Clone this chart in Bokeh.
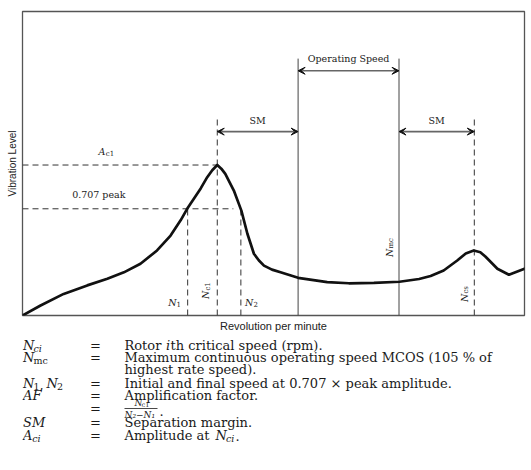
import math
from bokeh.plotting import figure
from bokeh.models import Arrow, VeeHead, FixedTicker, Range1d
from bokeh.layouts import column
from bokeh.embed import file_html
from bokeh.resources import INLINE
from bokeh.core.properties import value

# ---------------- data (rpm and vibration in % of plotted range) ----------------
rpm = [0, 3.6, 8.2, 12.9, 16.9, 20.2, 23.5, 26.8, 29.5, 31.5, 32.8, 35.5, 36.8, 37.8,
       38.8, 39.6, 40.4, 42.1, 43.6, 44.8, 46.1, 47.1, 48.1, 49.7, 51.4, 54.9, 60.7,
       65.0, 70.0, 75.1, 79.0, 81.3, 83.9, 86.6, 88.3, 89.9, 91.2, 92.2, 94.6, 96.9, 100]
vib = [0, 3.3, 7.1, 9.9, 12.1, 14.2, 17.0, 21.4, 26.3, 31.3, 35.1, 41.8, 45.5, 47.8,
       49.5, 48.3, 46.6, 41.1, 34.5, 26.9, 20.3, 18.1, 16.4, 15.1, 14.2, 12.4, 11.0,
       10.6, 10.7, 11.1, 12.0, 13.0, 14.8, 18.1, 20.4, 21.4, 20.8, 19.4, 15.4, 13.4, 15.4]

speed_N1 = 32.9
speed_Nc1 = 38.8
speed_N2 = 43.5
speed_op_low = 54.9
speed_Nmc = 75.0
speed_Ncs = 90.0
peak_amp = 49.5
amp_0707 = 35.1

x_label = "Revolution per minute"
y_label = "Vibration Level"

legend_desc = ["Rotor ", "i", "th critical speed (rpm).",
               "Maximum continuous operating speed MCOS (105 % of",
               "highest rate speed).",
               "Initial and final speed at 0.707 \u00d7 peak amplitude.",
               "Amplification factor.",
               "Separation margin.",
               "Amplitude at "]

SERIF = "DejaVu Serif"
SANS = "Liberation Sans"
INK = "#1a1a1a"

p = figure(x_range=Range1d(0, 100), y_range=Range1d(0, 100),
           frame_width=502, frame_height=304,
           output_backend="svg", toolbar_location=None,
           min_border_left=22, min_border_right=3, min_border_top=11, min_border_bottom=17)
p.grid.visible = False
p.outline_line_color = "#555555"
p.outline_line_width = 1.3
p.background_fill_color = "white"
p.border_fill_color = "white"

for ax in (p.xaxis[0], p.yaxis[0]):
    ax.ticker = FixedTicker(ticks=[])
    ax.major_tick_out = 0
    ax.major_tick_in = 0
    ax.minor_tick_out = 0
    ax.minor_tick_in = 0
    ax.axis_line_color = None
    ax.major_label_standoff = 0
    ax.major_label_text_font_size = "0px"
    ax.axis_label_text_font = SANS
    ax.axis_label_text_font_style = "normal"
    ax.axis_label_text_color = "#222222"
p.xaxis.axis_label = x_label
p.xaxis.axis_label_text_font_size = "11px"
p.xaxis.axis_label_standoff = 4
p.yaxis.axis_label = y_label
p.yaxis.axis_label_text_font_size = "10px"
p.yaxis.axis_label_standoff = 5

dash = "6 4"
top_dash = 64.5
op_top = 84.5
# horizontal dashed lines
p.line([0, speed_Nc1], [peak_amp, peak_amp], line_dash=dash, line_color="#333", line_width=1)
p.line([0, 42.0], [amp_0707, amp_0707], line_dash=dash, line_color="#333", line_width=1)
# vertical dashed lines
for xs, yt in ((speed_N1, amp_0707), (speed_N2, amp_0707), (speed_Nc1, top_dash), (speed_Ncs, top_dash)):
    p.line([xs, xs], [0, yt], line_dash=dash, line_color="#333", line_width=1)
# operating speed solid lines
for xs in (speed_op_low, speed_Nmc):
    p.line([xs, xs], [0, op_top], line_color="#444", line_width=1)

# curve
p.line(rpm, vib, line_color="#111111", line_width=2.7, line_join="round", line_cap="round")

# arrows
def arrow(x0, x1, y):
    p.add_layout(Arrow(start=VeeHead(size=7, fill_color="#111", line_color="#111", line_width=1),
                       end=VeeHead(size=7, fill_color="#111", line_color="#111", line_width=1),
                       x_start=x0, y_start=y, x_end=x1, y_end=y,
                       line_color="#666", line_width=1.6))
arrow(speed_op_low, speed_Nmc, 80.5)
arrow(speed_Nc1, speed_op_low, 60.5)
arrow(speed_Nmc, speed_Ncs, 60.5)

def t(fig, x, y, s, size, italic=False, align="left", font=SERIF, color=INK, angle=0.0,
      baseline="middle", xo=0, yo=0):
    fig.text(x=[x], y=[y], text=[s], text_font=value(font), text_font_size=f"{size}px",
             text_font_style="italic" if italic else "normal", text_align=align,
             text_baseline=baseline, text_color=color, angle=angle, x_offset=xo, y_offset=yo)

t(p, (speed_op_low + speed_Nmc) / 2, 84.7, "Operating Speed", 9.5, align="center")
t(p, (speed_Nc1 + speed_op_low) / 2, 64.1, "SM", 9.5, align="center")
t(p, (speed_Nmc + speed_Ncs) / 2, 64.1, "SM", 9.5, align="center")
t(p, 16.5, 53.9, "A", 9.5, italic=True, align="right")
t(p, 16.5, 53.9, "c1", 7, align="left", xo=0.5, yo=2)
t(p, 15.2, 39.7, "0.707 peak", 9.5, align="center")
# N1, N2
t(p, 30.7, 4.3, "N", 9.5, italic=True, align="right")
t(p, 30.7, 4.3, "1", 7, align="left", yo=2)
t(p, 46.0, 4.3, "N", 9.5, italic=True, align="right")
t(p, 46.0, 4.3, "2", 7, align="left", yo=2)
# rotated labels
for xs, ys, sub in ((36.5, 8.2, "c1"), (73.1, 22.0, "mc"), (88.0, 7.2, "cs")):
    t(p, xs, ys, "N", 9.5, italic=True, align="right", angle=math.pi / 2)
    t(p, xs, ys, sub, 7, align="left", angle=math.pi / 2, xo=2)

# ---------------- legend block (frame aligned with chart frame, x in page pixels) ----------------
q = figure(x_range=Range1d(22, 524), y_range=Range1d(122, 0),
           frame_width=502, frame_height=122, output_backend="svg", toolbar_location=None,
           min_border=0, min_border_left=22, x_axis_location=None, y_axis_location=None)
q.grid.visible = False
q.outline_line_color = None

FS = 13
SUB = 9.5
xs_sym, xs_eq, xs_desc = 22.5, 95, 124
rows = [11, 23, 35, 49, 61, 74, 88, 101]

def sym(x, y, main, sub=None, sub_italic=True):
    t(q, x, y, main, FS, italic=True)
    if sub:
        w = 10.4 if main == "N" else 9.2
        t(q, x + w, y, sub, SUB, italic=sub_italic, yo=3)

# row 1
sym(xs_sym, rows[0], "N", "ci")
t(q, xs_eq, rows[0], "=", FS, align="center")
t(q, xs_desc, rows[0], legend_desc[0], FS)
t(q, xs_desc + 41.5, rows[0], legend_desc[1], FS, italic=True)
t(q, xs_desc + 46, rows[0], legend_desc[2], FS)
# row 2
sym(xs_sym, rows[1], "N", "mc", sub_italic=False)
t(q, xs_eq, rows[1], "=", FS, align="center")
t(q, xs_desc, rows[1], legend_desc[3], FS)
# row 3
t(q, xs_desc, rows[2], legend_desc[4], FS)
# row 4
sym(xs_sym, rows[3], "N", "1", sub_italic=False)
t(q, xs_sym + 16.5, rows[3], ",", FS)
sym(xs_sym + 23.5, rows[3], "N", "2", sub_italic=False)
t(q, xs_eq, rows[3], "=", FS, align="center")
t(q, xs_desc, rows[3], legend_desc[5], FS)
# row 5
t(q, xs_sym, rows[4], "AF", FS, italic=True)
t(q, xs_eq, rows[4], "=", FS, align="center")
t(q, xs_desc, rows[4], legend_desc[6], FS)
# row 6 (fraction)
t(q, xs_eq, rows[5], "=", FS, align="center")
t(q, xs_desc + 10, rows[5] - 5.5, "N", 9, italic=True)
t(q, xs_desc + 17, rows[5] - 5.5, "c1", 6.5, yo=2)
q.line([xs_desc, xs_desc + 33], [rows[5], rows[5]], line_color=INK, line_width=0.8)
t(q, xs_desc, rows[5] + 6, "N\u2082\u2212N\u2081", 9, italic=True)
t(q, xs_desc + 35, rows[5] + 2, ".", FS)
# row 7
t(q, xs_sym, rows[6], "SM", FS, italic=True)
t(q, xs_eq, rows[6], "=", FS, align="center")
t(q, xs_desc, rows[6], legend_desc[7], FS)
# row 8
sym(xs_sym, rows[7], "A", "ci")
t(q, xs_eq, rows[7], "=", FS, align="center")
t(q, xs_desc, rows[7], legend_desc[8], FS)
sym(xs_desc + 91, rows[7], "N", "ci")
t(q, xs_desc + 91 + 20, rows[7], ".", FS)

layout = column(p, q, spacing=0)
open("out.html", "w").write(file_html(layout, INLINE))
